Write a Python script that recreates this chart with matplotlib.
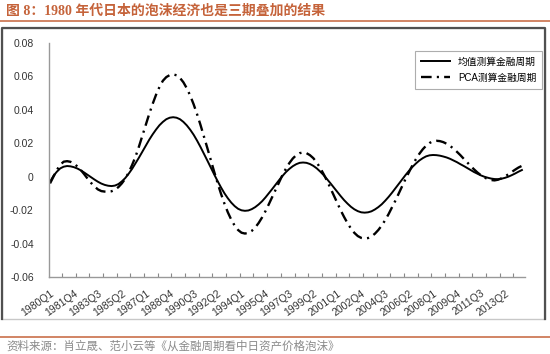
import matplotlib
matplotlib.use("Agg")
import matplotlib.pyplot as plt
from matplotlib.lines import Line2D
from matplotlib.patches import Rectangle

plt.rcParams['font.family'] = ['Liberation Sans', 'Noto Sans CJK SC', 'DejaVu Sans']

title = "图 8：1980 年代日本的泡沫经济也是三期叠加的结果"
source = "资料来源：肖立晟、范小云等《从金融周期看中日资产价格泡沫》"
series_names = ["均值测算金融周期", "PCA测算金融周期"]

# quarterly categories 1980Q1 .. 2014Q3
quarters = [f"{1980 + i // 4}Q{i % 4 + 1}" for i in range(139)]
tick_labels = ["1980Q1", "1981Q4", "1983Q3", "1985Q2", "1987Q1", "1988Q4", "1990Q3",
               "1992Q2", "1994Q1", "1995Q4", "1997Q3", "1999Q2", "2001Q1", "2002Q4",
               "2004Q3", "2006Q2", "2008Q1", "2009Q4", "2011Q3", "2013Q2"]

mean_cycle = [
    -0.0030, 0.0005, 0.0030, 0.0050, 0.0060, 0.0064, 0.0062, 0.0057, 0.0049, 0.0038,
    0.0025, 0.0011, -0.0003, -0.0017, -0.0030, -0.0041, -0.0049, -0.0054, -0.0056, -0.0053,
    -0.0044, -0.0028, -0.0008, 0.0018, 0.0047, 0.0080, 0.0114, 0.0150, 0.0186, 0.0221,
    0.0253, 0.0282, 0.0308, 0.0328, 0.0344, 0.0353, 0.0356, 0.0353, 0.0344, 0.0328,
    0.0307, 0.0281, 0.0251, 0.0216, 0.0178, 0.0138, 0.0097, 0.0055, 0.0014, -0.0026,
    -0.0064, -0.0099, -0.0129, -0.0155, -0.0176, -0.0192, -0.0201, -0.0204, -0.0202, -0.0194,
    -0.0182, -0.0166, -0.0147, -0.0124, -0.0099, -0.0073, -0.0046, -0.0020, 0.0005, 0.0028,
    0.0047, 0.0063, 0.0075, 0.0083, 0.0085, 0.0083, 0.0076, 0.0065, 0.0050, 0.0031,
    0.0010, -0.0014, -0.0039, -0.0065, -0.0091, -0.0116, -0.0140, -0.0161, -0.0180, -0.0195,
    -0.0206, -0.0213, -0.0215, -0.0213, -0.0207, -0.0196, -0.0182, -0.0165, -0.0144, -0.0121,
    -0.0096, -0.0069, -0.0043, -0.0016, 0.0011, 0.0036, 0.0059, 0.0079, 0.0097, 0.0111,
    0.0122, 0.0128, 0.0130, 0.0129, 0.0126, 0.0121, 0.0115, 0.0107, 0.0097, 0.0087,
    0.0075, 0.0064, 0.0052, 0.0040, 0.0028, 0.0018, 0.0008, 0.0000, -0.0006, -0.0011,
    -0.0014, -0.0015, -0.0012, -0.0007, 0.0000, 0.0009, 0.0019, 0.0030, 0.0040,
]

pca_cycle = [
    -0.0040, 0.0000, 0.0040, 0.0072, 0.0090, 0.0093, 0.0089, 0.0079, 0.0061, 0.0040,
    0.0015, -0.0012, -0.0037, -0.0058, -0.0076, -0.0086, -0.0089, -0.0090, -0.0087, -0.0078,
    -0.0062, -0.0040, -0.0012, 0.0025, 0.0070, 0.0120, 0.0180, 0.0245, 0.0310, 0.0375,
    0.0435, 0.0490, 0.0537, 0.0574, 0.0596, 0.0608, 0.0612, 0.0607, 0.0591, 0.0565,
    0.0529, 0.0485, 0.0433, 0.0374, 0.0310, 0.0242, 0.0172, 0.0100, 0.0030, -0.0038,
    -0.0102, -0.0161, -0.0213, -0.0257, -0.0293, -0.0319, -0.0335, -0.0340, -0.0336, -0.0324,
    -0.0304, -0.0277, -0.0244, -0.0206, -0.0164, -0.0120, -0.0075, -0.0031, 0.0011, 0.0049,
    0.0082, 0.0109, 0.0129, 0.0141, 0.0145, 0.0141, 0.0129, 0.0111, 0.0085, 0.0053,
    0.0016, -0.0024, -0.0068, -0.0113, -0.0157, -0.0201, -0.0241, -0.0278, -0.0310, -0.0336,
    -0.0355, -0.0366, -0.0370, -0.0367, -0.0357, -0.0341, -0.0319, -0.0292, -0.0260, -0.0224,
    -0.0184, -0.0143, -0.0099, -0.0056, -0.0012, 0.0029, 0.0069, 0.0105, 0.0137, 0.0164,
    0.0186, 0.0202, 0.0212, 0.0215, 0.0213, 0.0207, 0.0197, 0.0184, 0.0168, 0.0149,
    0.0129, 0.0107, 0.0086, 0.0064, 0.0044, 0.0025, 0.0009, -0.0004, -0.0014, -0.0020,
    -0.0022, -0.0018, -0.0010, 0.0001, 0.0014, 0.0028, 0.0042, 0.0055, 0.0065,
]

y_ticks = [0.08, 0.06, 0.04, 0.02, 0, -0.02, -0.04, -0.06]
y_tick_labels = ["0.08", "0.06", "0.04", "0.02", "0", "-0.02", "-0.04", "-0.06"]

W, H = 550, 354
fig = plt.figure(figsize=(W / 100, H / 100), dpi=100)

def fx(px):
    return px / W

def fy(py):
    return 1 - py / H

accent = "#c5633a"

# title and rules
fig.text(fx(6), fy(11), title, fontsize=10, fontweight='bold', color=accent,
         ha='left', va='center', family=['Liberation Serif', 'Noto Sans CJK SC', 'DejaVu Sans'])
fig.add_artist(Line2D([0, 1], [fy(21), fy(21)], transform=fig.transFigure,
                      color=accent, lw=1.1))
fig.add_artist(Line2D([0, 1], [fy(336.5), fy(336.5)], transform=fig.transFigure,
                      color=accent, lw=1.1))
fig.text(fx(6), fy(346), source, fontsize=8.3, color='#8a8a8a', ha='left', va='center',
         family=['Noto Sans CJK SC', 'DejaVu Sans'])

# chart frame
fig.add_artist(Rectangle((fx(2), fy(319)), fx(545) - fx(2), fy(28) - fy(319),
                         transform=fig.transFigure, fill=False, edgecolor='#c8c8c8', lw=1))
fig.add_artist(Line2D([fx(2), fx(2), fx(545), fx(545)], [fy(319), fy(28), fy(28), fy(319)],
                      transform=fig.transFigure, color='#505050', lw=1.6))

ax = fig.add_axes([fx(49), fy(277), fx(525) - fx(49), fy(43) - fy(277)])
x = list(range(len(quarters)))
ax.plot(x, mean_cycle, color='black', lw=1.4, label=series_names[0])
ax.plot(x, pca_cycle, color='black', lw=1.7, dashes=(4.5, 2.2, 0.9, 2.2), label=series_names[1])

ax.set_xlim(-0.3, 138.9)
ax.set_ylim(-0.06, 0.08)
ax.set_yticks(y_ticks, y_tick_labels)
ax.tick_params(axis='y', length=0, pad=11, labelsize=7.5, colors='#333333')

tick_pos = [quarters.index(t) for t in tick_labels]
ax.set_xticks(tick_pos, tick_labels, rotation=35, ha='right', va='top', rotation_mode='anchor')
ax.tick_params(axis='x', which='major', length=0, pad=8, labelsize=7.5, labelcolor='#333333')
ax.set_xticks([q + 3.5 for q in range(0, 136, 4)], minor=True)
ax.tick_params(axis='x', which='minor', direction='in', length=3, color='#888888', width=0.8)

for s in ['top', 'right']:
    ax.spines[s].set_visible(False)
for s in ['left', 'bottom']:
    ax.spines[s].set_color('#999999')
    ax.spines[s].set_linewidth(1)

leg = ax.legend(loc='upper right', bbox_to_anchor=(fx(542), fy(51)), bbox_transform=fig.transFigure,
                borderaxespad=0, fontsize=7, frameon=True, fancybox=False, edgecolor='#999999',
                handlelength=3.0, labelspacing=0.6, borderpad=0.6, handletextpad=0.8)
leg.get_frame().set_linewidth(0.8)

fig.savefig("out.png", dpi=100)
